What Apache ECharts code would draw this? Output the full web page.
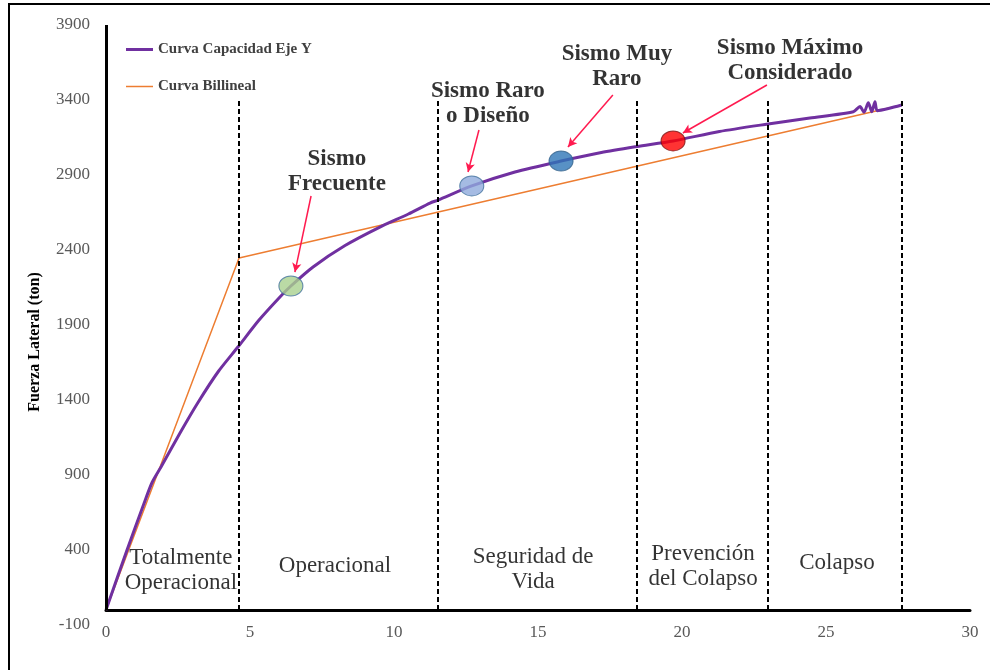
<!DOCTYPE html>
<html>
<head>
<meta charset="utf-8">
<script src="https://cdn.jsdelivr.net/npm/echarts@6/dist/echarts.min.js"></script>
<style>
  html, body { margin: 0; padding: 0; background: #fff; }
  #chart { width: 990px; height: 670px; }
</style>
</head>
<body>
<div id="chart"></div>
<script>
// Capacity curve (pushover), Y direction: displacement vs lateral force
const capX = [0, 0.73, 1.3, 1.6, 1.9, 2.57, 3.2, 3.9, 4.58, 5.3, 6.04, 6.42, 7.19, 8.3, 9.51, 10.5, 11.25, 11.53, 12.7, 14.2, 15.8, 17.2, 18.44, 19.69, 21.3, 22.99, 24.44, 25.95, 26.18, 26.32, 26.47, 26.59, 26.7, 26.78, 27.2, 27.63];
const capY = [0, 400, 700, 850, 950, 1180, 1385, 1590, 1753, 1930, 2087, 2160, 2287, 2430, 2553, 2640, 2713, 2733, 2827, 2920, 2993, 3050, 3090, 3127, 3190, 3240, 3280, 3322, 3356, 3318, 3382, 3322, 3389, 3329, 3345, 3367];

// Bilinear idealisation
const bilX = [0, 4.62, 27.64];
const bilY = [0, 2347, 3367];

// Performance level limits
const limitX = [4.62, 11.53, 18.44, 22.99, 27.64];
const limitTop = 3400;

// Performance level names
const zoneNames = ['Totalmente\nOperacional', 'Operacional', 'Seguridad de\nVida', 'Prevención\ndel Colapso', 'Colapso'];
const zoneX = [2.6, 7.95, 14.83, 20.73, 25.38];
const zoneY = [262, 293, 267, 287, 313];

// Seismic hazard levels (performance points)
const sismoNames = ['Sismo\nFrecuente', 'Sismo Raro\no Diseño', 'Sismo Muy\nRaro', 'Sismo Máximo\nConsiderado'];
const sismoX = [6.42, 12.7, 15.8, 19.69];
const sismoY = [2160, 2827, 2993, 3127];
const noteX = [8.02, 13.26, 17.74, 23.75];
const noteY = [2920, 3373, 3620, 3660];
const arrowFromX = [7.12, 12.95, 17.6, 22.95];
const arrowFromY = [2760, 3200, 3433, 3500];
const arrowToX = [6.56, 12.57, 16.04, 20.03];
const arrowToY = [2253, 2920, 3087, 3180];

const sismoFill = ['#a9d18e', '#8faadc', '#2e75b6', '#ff0000'];
const sismoBorder = ['#41719c', '#41719c', '#2f5f8a', '#7a1010'];

const serif = "'Liberation Serif', 'Times New Roman', serif";

const zip = (a, b) => a.map((v, i) => [v, b[i]]);

const chart = echarts.init(document.getElementById('chart'), null, { renderer: 'canvas' });

chart.setOption({
  animation: false,
  backgroundColor: '#ffffff',
  grid: { left: 106, right: 20, top: 25, bottom: 45, containLabel: false },
  legend: {
    orient: 'vertical',
    left: 121,
    top: 37,
    itemWidth: 27,
    itemHeight: 14,
    itemGap: 22,
    data: [
      { name: 'Curva Capacidad Eje Y', icon: 'path://M0,0H27V3H0Z' },
      { name: 'Curva Billineal', icon: 'path://M0,0H27V1.5H0Z' }
    ],
    textStyle: { fontFamily: serif, fontWeight: 'bold', fontSize: 15, color: '#404040' }
  },
  xAxis: {
    type: 'value',
    min: 0,
    max: 30,
    interval: 5,
    axisLine: { onZero: true, lineStyle: { color: '#000', width: 3 } },
    axisTick: { show: false },
    splitLine: { show: false },
    axisLabel: { color: '#595959', fontFamily: serif, fontSize: 17, margin: -1 }
  },
  yAxis: {
    type: 'value',
    min: -100,
    max: 3900,
    interval: 500,
    axisLine: { show: false },
    axisTick: { show: false },
    splitLine: { show: false },
    axisLabel: {
      color: '#595959', fontFamily: serif, fontSize: 17, margin: 16,
      formatter: v => String(v)
    }
  },
  graphic: [
    {
      type: 'rect',
      shape: { x: 9, y: 4, width: 1000, height: 700 },
      style: { fill: 'none', stroke: '#000', lineWidth: 2 },
      silent: true
    },
    {
      type: 'text',
      x: 35,
      y: 342,
      rotation: Math.PI / 2,
      style: {
        text: 'Fuerza Lateral (ton)',
        fontFamily: serif,
        fontWeight: 'bold',
        fontSize: 16,
        fill: '#000',
        align: 'center',
        verticalAlign: 'middle'
      }
    }
  ],
  series: [
    {
      name: 'Curva Billineal',
      type: 'line',
      data: zip(bilX, bilY),
      symbol: 'none',
      color: '#ed7d31',
      lineStyle: { color: '#ed7d31', width: 1.5 },
      z: 3,
      markLine: {
        silent: true,
        symbol: ['none', 'none'],
        label: { show: false },
        lineStyle: { color: '#000', width: 2, type: [5, 3] },
        data: limitX.map(x => [{ coord: [x, 0] }, { coord: [x, limitTop] }])
      }
    },
    {
      name: 'Curva Capacidad Eje Y',
      type: 'line',
      data: zip(capX, capY),
      symbol: 'none',
      smooth: 0.25,
      color: '#7030a0',
      lineStyle: { color: '#7030a0', width: 3 },
      z: 4,
      markLine: {
        silent: true,
        symbol: ['none', 'none'],
        label: { show: false },
        lineStyle: { color: '#000', width: 3, type: 'solid' },
        data: [[{ coord: [0, 0] }, { coord: [0, 3900] }]]
      }
    },
    {
      name: 'Niveles de sismo',
      type: 'scatter',
      data: sismoX.map((x, i) => ({
        value: [x, sismoY[i]],
        itemStyle: { color: sismoFill[i], borderColor: sismoBorder[i], borderWidth: 1 }
      })),
      symbol: 'circle',
      symbolSize: [24, 20],
      z: 6
    },
    {
      name: 'Flechas',
      type: 'line',
      data: [],
      markLine: {
        silent: true,
        symbol: ['none', 'arrow'],
        symbolSize: [7, 9],
        label: { show: false },
        lineStyle: { color: '#ff1a4f', width: 1.5, type: 'solid' },
        data: arrowFromX.map((x, i) => [
          { coord: [x, arrowFromY[i]] },
          { coord: [arrowToX[i], arrowToY[i]] }
        ])
      },
      z: 7
    },
    {
      name: 'Rótulos de sismo',
      type: 'scatter',
      data: noteX.map((x, i) => ({ value: [x, noteY[i]], name: sismoNames[i] })),
      symbolSize: 1,
      itemStyle: { color: 'rgba(0,0,0,0)' },
      label: {
        show: true,
        position: 'inside',
        formatter: p => p.name,
        fontFamily: serif,
        fontWeight: 'bold',
        fontSize: 23,
        lineHeight: 25,
        color: '#000',
        align: 'center',
        verticalAlign: 'middle'
      },
      z: 8
    },
    {
      name: 'Niveles de desempeño',
      type: 'scatter',
      data: zoneX.map((x, i) => ({ value: [x, zoneY[i]], name: zoneNames[i] })),
      symbolSize: 1,
      itemStyle: { color: 'rgba(0,0,0,0)' },
      label: {
        show: true,
        position: 'inside',
        formatter: p => p.name,
        fontFamily: serif,
        fontSize: 23,
        lineHeight: 25,
        color: '#000',
        align: 'center',
        verticalAlign: 'middle'
      },
      z: 8
    }
  ]
});
</script>
</body>
</html>
